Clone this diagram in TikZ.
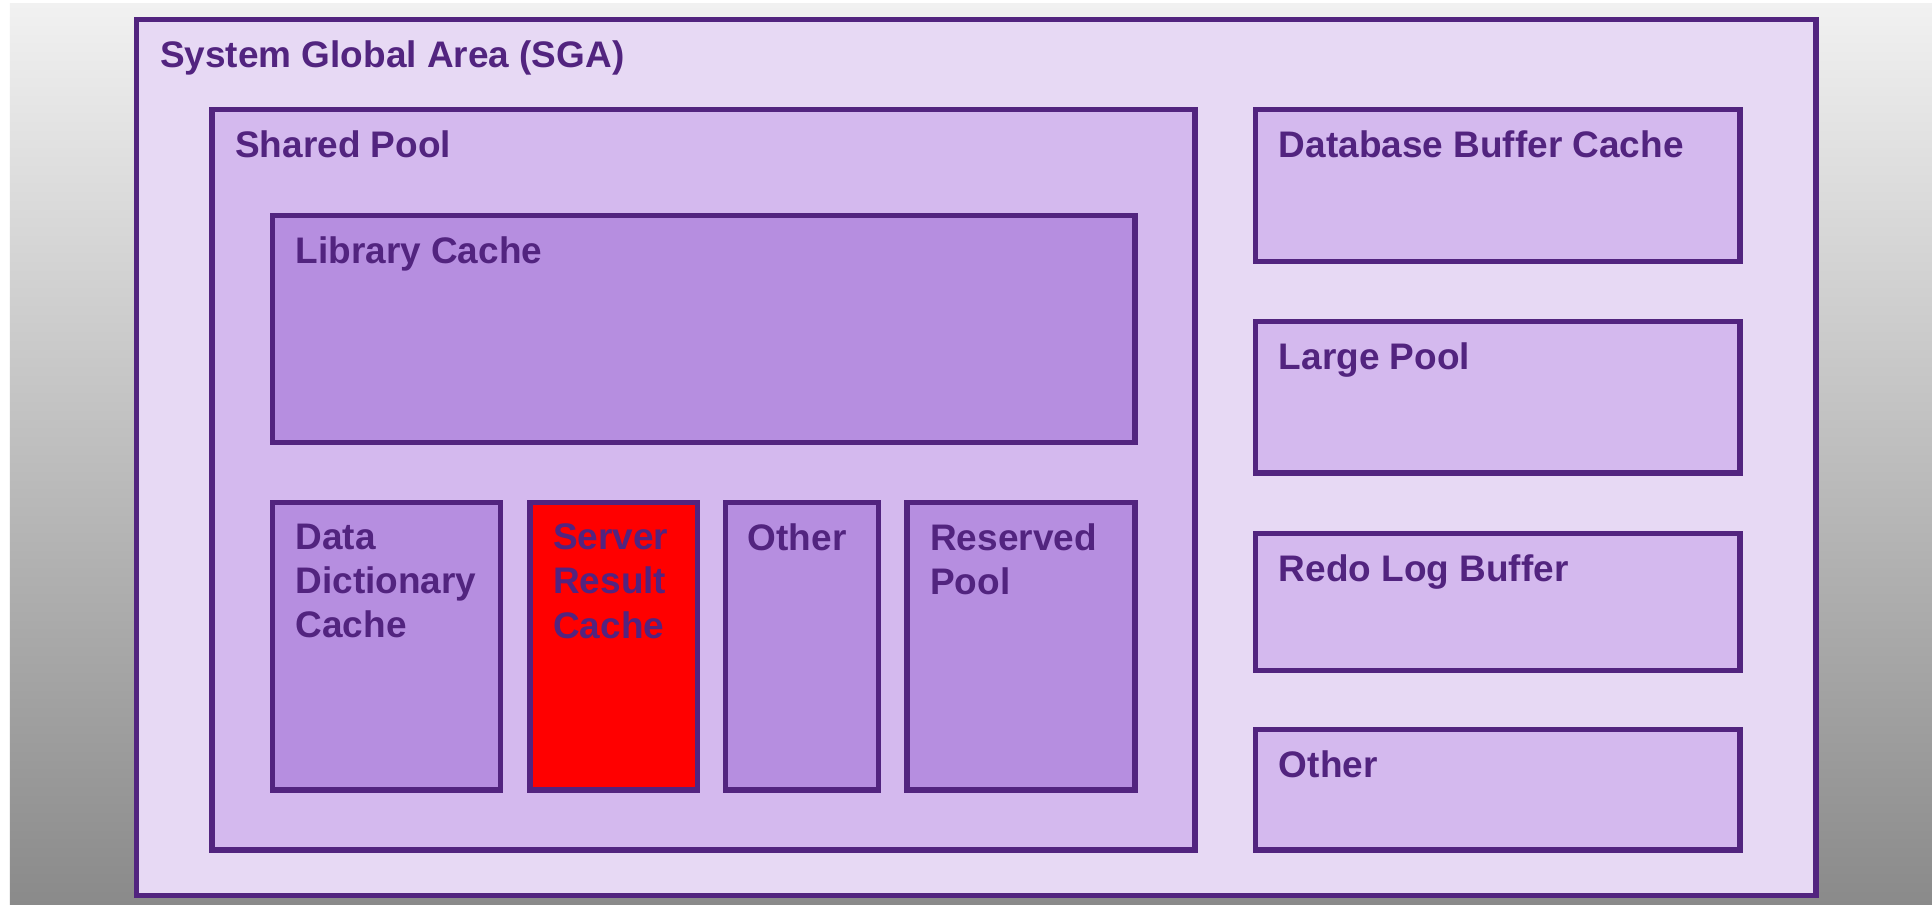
\documentclass[tikz,border=0pt]{standalone}
\usepackage{fontspec}
\setmainfont{Liberation Sans}
\definecolor{sgaline}{HTML}{52247F}
\definecolor{sgafill}{HTML}{E7D9F4}
\definecolor{poolfill}{HTML}{D4B9EE}
\definecolor{cachefill}{HTML}{B68EE0}
\definecolor{hotfill}{HTML}{FF0000}
\definecolor{bgtop}{HTML}{F1F1F1}
\definecolor{bgbot}{HTML}{8A8A8A}
\newcommand\membox[6]{\node[membx, fill=#6, minimum width=#4*0.5pt, minimum height=#5*0.5pt] (#1) at (#2,#3) {};}
\tikzset{
  membx/.style={draw=sgaline, line width=2.2pt, inner sep=0pt, outer sep=0pt, anchor=north west},
  lbl/.style={text=sgaline, font=\bfseries\fontsize{15}{18}\selectfont, inner sep=0pt, outer sep=0pt, anchor=north west, align=left},
}
\begin{document}
\begin{tikzpicture}[x=0.5pt,y=-0.5pt]
\useasboundingbox (0,0) rectangle (1568,734);
\fill[white] (0,0) rectangle (1568,734);
\shade[top color=bgtop, bottom color=bgbot] (8,3) rectangle (1568,734);
% boxes
\membox{sga}{111}{16}{1363}{711}{sgafill}
\membox{shared}{172}{89}{798}{601}{poolfill}
\membox{lib}{221}{175}{700}{184}{cachefill}
\membox{ddc}{221}{408}{185}{233}{cachefill}
\membox{src}{430}{408}{136}{233}{hotfill}
\membox{oth}{589}{408}{124}{233}{cachefill}
\membox{res}{736}{408}{185}{233}{cachefill}
\membox{dbc}{1019}{89}{393}{123}{poolfill}
\membox{lpool}{1019}{261}{393}{123}{poolfill}
\membox{redo}{1019}{433}{393}{111}{poolfill}
\membox{othr}{1019}{592}{393}{98}{poolfill}
% labels
\node[lbl] (sgat) at ([xshift=9.5pt,yshift=-8.5pt]sga.north west) {System Global Area (SGA)};
\node[lbl] (sharedt) at ([xshift=9.5pt,yshift=-8.5pt]shared.north west) {Shared Pool};
\node[lbl] (libt) at ([xshift=9.5pt,yshift=-8.5pt]lib.north west) {Library Cache};
\node[lbl] (ddct) at ([xshift=9.5pt,yshift=-8.5pt]ddc.north west) {Data\\Dictionary\\Cache};
\node[lbl] (srct) at ([xshift=9.5pt,yshift=-8.5pt]src.north west) {Server\\Result\\Cache};
\node[lbl] (otht) at ([xshift=9pt,yshift=-8.5pt]oth.north west) {Other};
\node[lbl] (rest) at ([xshift=9.5pt,yshift=-8.5pt]res.north west) {Reserved\\Pool};
\node[lbl] (dbct) at ([xshift=9.5pt,yshift=-8.5pt]dbc.north west) {Database Buffer Cache};
\node[lbl] (lpoolt) at ([xshift=9.5pt,yshift=-8.5pt]lpool.north west) {Large Pool};
\node[lbl] (redot) at ([xshift=9.5pt,yshift=-8.5pt]redo.north west) {Redo Log Buffer};
\node[lbl] (othrt) at ([xshift=9.5pt,yshift=-8.5pt]othr.north west) {Other};
\end{tikzpicture}
\end{document}
